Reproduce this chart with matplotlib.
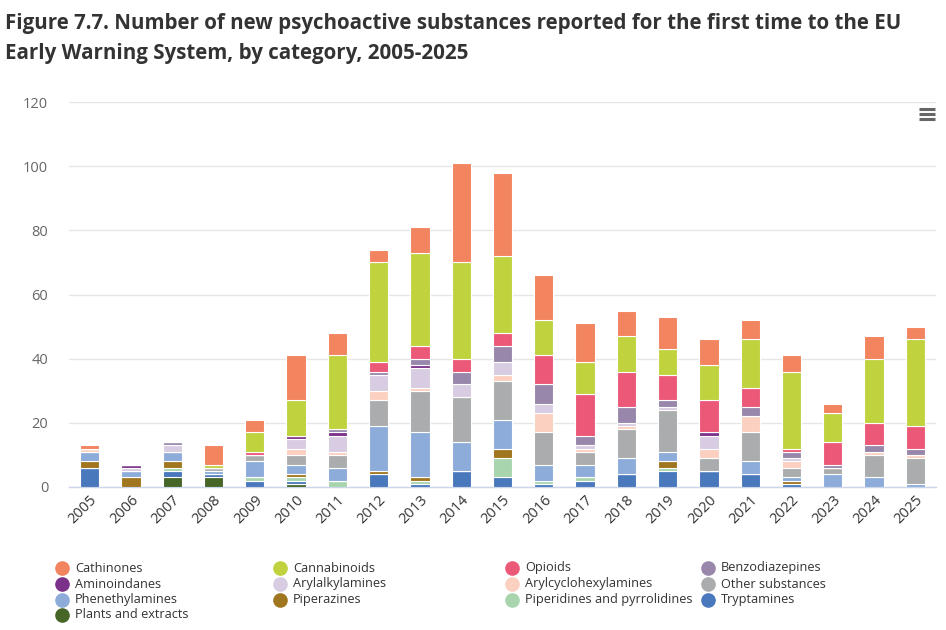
import matplotlib
matplotlib.use("Agg")
import matplotlib.pyplot as plt
import numpy as np

years = [str(y) for y in range(2005, 2026)]

# series listed in legend order (first is drawn on top of the stack)
series_names = ["Cathinones", "Cannabinoids", "Opioids", "Benzodiazepines",
                "Aminoindanes", "Arylalkylamines", "Arylcyclohexylamines",
                "Other substances", "Phenethylamines", "Piperazines",
                "Piperidines and pyrrolidines", "Tryptamines", "Plants and extracts"]

cathinones =        [1, 0, 0, 6, 4, 14, 7, 4, 8, 31, 26, 14, 12, 8, 10, 8, 6, 5, 3, 7, 4]
cannabinoids =      [0, 0, 0, 1, 6, 11, 23, 31, 29, 30, 24, 11, 10, 11, 8, 11, 15, 24, 9, 20, 27]
opioids =           [0, 0, 0, 0, 1, 0, 0, 3, 4, 4, 4, 9, 13, 11, 8, 10, 6, 1, 7, 7, 7]
benzodiazepines =   [0, 0, 1, 0, 0, 0, 1, 1, 2, 4, 5, 6, 3, 5, 2, 0, 3, 2, 1, 2, 2]
aminoindanes =      [0, 1, 0, 0, 0, 1, 1, 0, 1, 0, 0, 0, 0, 0, 0, 1, 0, 0, 0, 0, 0]
arylalkylamines =   [0, 1, 2, 0, 0, 3, 5, 5, 6, 4, 4, 3, 1, 1, 1, 4, 0, 1, 0, 0, 0]
arylcyclohexylamines = [1, 0, 0, 0, 0, 2, 1, 3, 1, 0, 2, 6, 1, 1, 0, 3, 5, 2, 0, 1, 1]
other_substances =  [0, 0, 0, 1, 2, 3, 4, 8, 13, 14, 12, 10, 4, 9, 13, 4, 9, 3, 2, 7, 8]
phenethylamines =   [3, 2, 3, 1, 5, 3, 4, 14, 14, 9, 9, 5, 4, 5, 3, 0, 4, 1, 4, 3, 1]
piperazines =       [2, 3, 2, 0, 0, 1, 0, 1, 1, 0, 3, 0, 0, 0, 2, 0, 0, 1, 0, 0, 0]
piperidines =       [0, 0, 1, 0, 1, 1, 2, 0, 1, 0, 6, 1, 1, 0, 1, 0, 0, 0, 0, 0, 0]
tryptamines =       [6, 0, 2, 1, 2, 1, 0, 4, 1, 5, 3, 1, 2, 4, 5, 5, 4, 1, 0, 0, 0]
plants_extracts =   [0, 0, 3, 3, 0, 1, 0, 0, 0, 0, 0, 0, 0, 0, 0, 0, 0, 0, 0, 0, 0]

series_values = [cathinones, cannabinoids, opioids, benzodiazepines, aminoindanes,
                 arylalkylamines, arylcyclohexylamines, other_substances,
                 phenethylamines, piperazines, piperidines, tryptamines, plants_extracts]

colors = ["#F28460", "#C0D23E", "#EB5878", "#9887AA", "#7B318A", "#D8CCE2",
          "#FCD0C0", "#ABACAE", "#8DACDA", "#A0761E", "#A8D5AE", "#4A78BC", "#466628"]

plt.rcParams['font.family'] = ['Open Sans', 'DejaVu Sans']

fig = plt.figure(figsize=(9.46, 6.30), dpi=100)
ax = fig.add_axes([69/946, (630-487)/630, (936-69)/946, (487-102)/630])

x = np.arange(len(years))
bottom = np.zeros(len(years))
# stack from bottom: last series first
for name, vals, col in reversed(list(zip(series_names, series_values, colors))):
    v = np.array(vals, dtype=float)
    ax.bar(x, v, bottom=bottom, width=0.47, color=col, edgecolor="white",
           linewidth=0.8, zorder=3)
    bottom += v

ax.set_xlim(-0.5, len(years) - 0.5)
ax.set_ylim(0, 120)
ax.set_yticks(np.arange(0, 121, 20))
ax.yaxis.grid(True, color="#e6e6e6", linewidth=1, zorder=0)
ax.set_axisbelow(True)
for s in ["top", "right", "left"]:
    ax.spines[s].set_visible(False)
ax.spines["bottom"].set_color("#ccd6eb")
ax.spines["bottom"].set_linewidth(1)
ax.tick_params(axis="y", length=0, pad=15, labelsize=10.5, labelcolor="#666666")
ax.tick_params(axis="x", length=0, pad=4, labelsize=10.5, labelcolor="#333333")
ax.set_xticks(x)
ax.set_xticklabels(years, rotation=45, ha="right", va="top", rotation_mode="anchor")

# title
fig.text(5/946, 1 - 29/630, "Figure 7.7. Number of new psychoactive substances reported for the first time to the EU",
         fontsize=14.8, fontweight="bold", color="#333333", ha="left", va="baseline")
fig.text(5/946, 1 - 59/630, "Early Warning System, by category, 2005-2025",
         fontsize=14.8, fontweight="bold", color="#333333", ha="left", va="baseline")

# menu icon
for yy in (109, 114, 119):
    fig.add_artist(plt.Line2D([919/946, 935/946], [1 - yy/630, 1 - yy/630],
                              color="#666666", linewidth=2.2, solid_capstyle="butt"))

# legend
col_x = [62, 280, 512, 708]
row_y = [568, 584, 600, 615]
for i, (name, col) in enumerate(zip(series_names, colors)):
    r, c = divmod(i, 4)
    fx = col_x[c] / 946
    fy = 1 - row_y[r] / 630
    fig.add_artist(plt.Line2D([fx], [fy], marker="o", markersize=9.5,
                              markerfacecolor=col, markeredgecolor=col, linestyle="none"))
    fig.text((col_x[c] + 13) / 946, fy, name, fontsize=9.2, color="#333333",
             ha="left", va="center")

fig.savefig("out.png", dpi=100)
